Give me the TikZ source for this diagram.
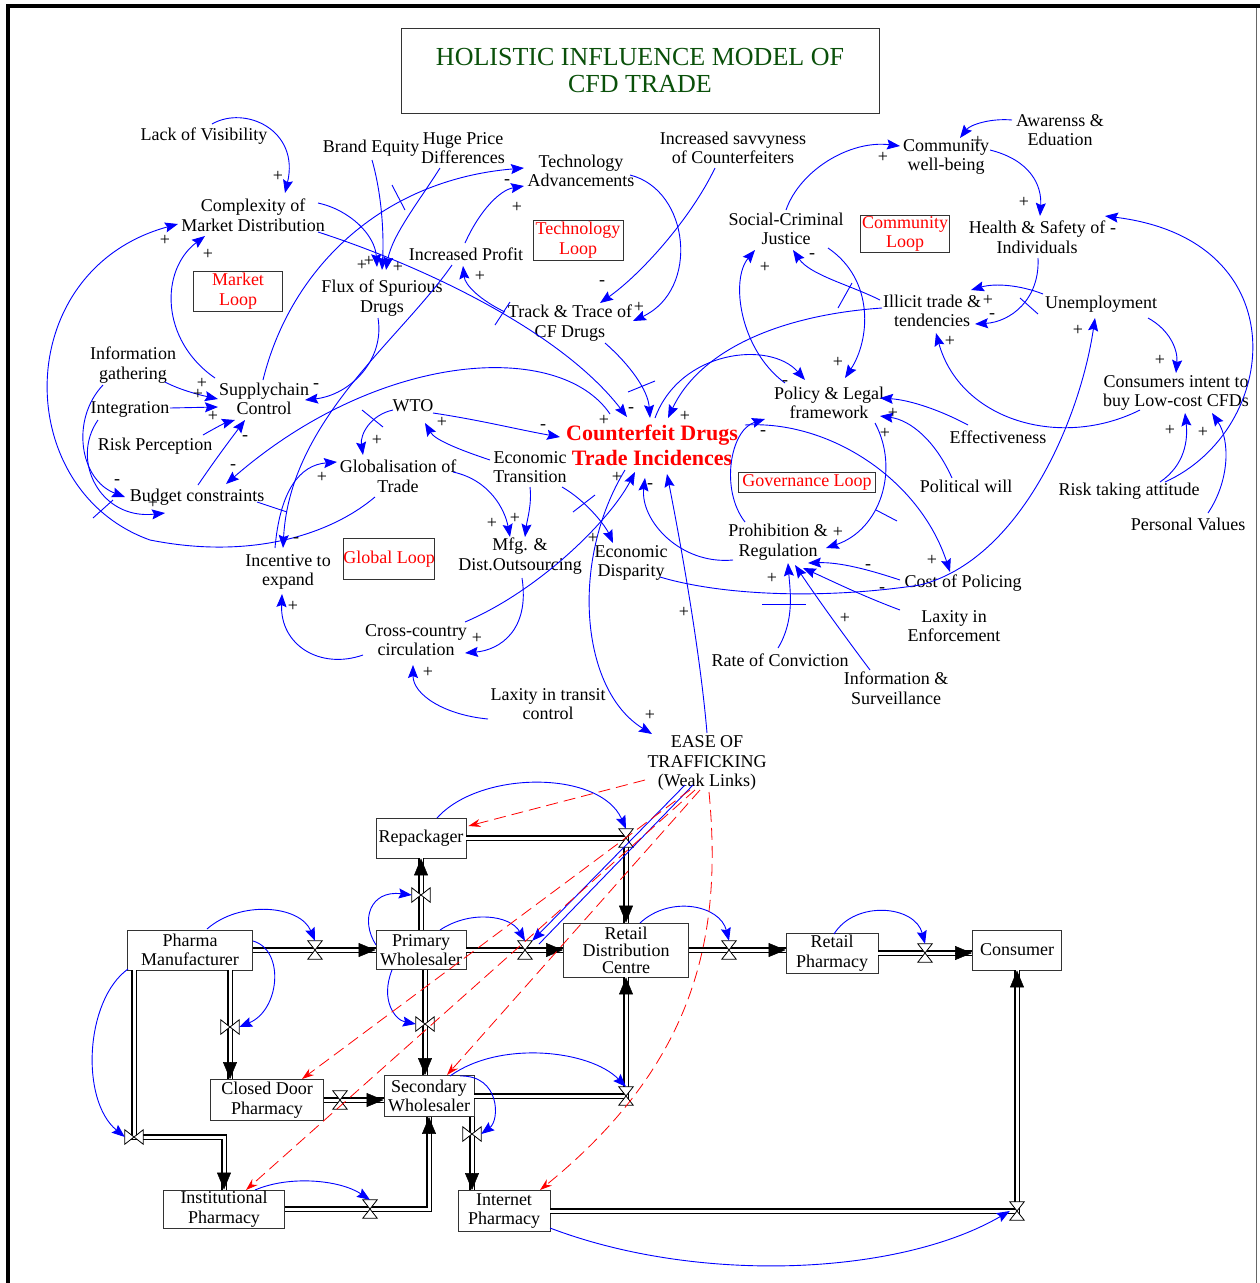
\documentclass[tikz,border=0pt]{standalone}
\usepackage{fontspec}
\setmainfont{Liberation Serif}
\usetikzlibrary{arrows.meta,calc}
\definecolor{dkgreen}{RGB}{10,80,10}
\newcommand\vfnt{\fontsize{18}{19.5}\selectfont}
\newcommand\rdcfnt{\fontsize{18}{17}\selectfont}
\newcommand\sgfnt{\fontsize{18}{18}\selectfont}
\newcommand\ttlfnt{\fontsize{26}{27}\selectfont}
\newcommand\cfdfnt{\fontsize{22}{25}\selectfont\bfseries}
% hourglass valve on a horizontal pipe, bow-tie valve on a vertical pipe
\newcommand\valveh[1]{\draw[black,line width=0.8pt,fill=white] (#1.north west) -- (#1.north east) -- (#1.south west) -- (#1.south east) -- cycle;}
\newcommand\valvev[1]{\draw[black,line width=0.8pt,fill=white] (#1.north west) -- (#1.south west) -- (#1.north east) -- (#1.south east) -- cycle;}
\tikzset{
  var/.style={font=\vfnt, align=center, inner sep=1pt},
  lnk/.style={blue, line width=0.9pt, -{Stealth[length=13pt,width=10pt,inset=2pt]}},
  tick/.style={blue, line width=0.9pt},
  sgn/.style={font=\sgfnt, inner sep=0pt},
  stock/.style={draw=black!80, line width=0.9pt, font=\vfnt, align=center, inner sep=0pt},
  loopbox/.style={draw=black!80, line width=0.9pt, font=\vfnt, text=red, align=center, inner sep=0pt},
  pipe/.style={draw=black, line width=1.1pt, double=white, double distance=3pt},
  flowhead/.style={line width=0.5pt, -{Triangle[length=17pt,width=14pt]}},
  valveH/.style={minimum width=14pt, minimum height=18pt, inner sep=0pt},
  valveV/.style={minimum width=18pt, minimum height=14pt, inner sep=0pt},
  weak/.style={red, line width=0.8pt, dash pattern=on 12pt off 6pt, -{Stealth[length=12pt,width=8pt]}},
}
\begin{document}
\begin{tikzpicture}[x=1pt,y=-1pt]
\useasboundingbox (0,0) rectangle (1260,1283);
\fill[white] (0,0) rectangle (1260,1283);
% frame
\draw[line width=4pt] (8,1283) -- (8,6) -- (1260,6);
\draw[black!60, line width=0.8pt] (1256,8) -- (1256,1283);

% title
\node[draw=black!80, line width=0.9pt, minimum width=478pt, minimum height=85pt, font=\ttlfnt, text=dkgreen, align=center] (title) at (640,70.5) {HOLISTIC INFLUENCE MODEL OF\\CFD TRADE};

% variables
\node[var] (lack) at (204,136) {Lack of Visibility};
\node[var] (brand) at (371,148) {Brand Equity};
\node[var] (huge) at (463,148) {Huge Price\\Differences};
\node[var] (tech) at (581,171) {Technology\\Advancements};
\node[var] (savvy) at (733,148) {Increased savvyness\\of Counterfeiters};
\node[var] (aware) at (1060,130) {Awarenss \&\\Eduation};
\node[var] (comm) at (946,157) {Community\\well-being};
\node[var] (cplx) at (253,215) {Complexity of\\Market Distribution};
\node[var] (socc) at (786,229) {Social-Criminal\\Justice};
\node[var] (health) at (1037,237) {Health \& Safety of\\Individuals};
\node[var] (profit) at (466,254) {Increased Profit};
\node[var] (flux) at (382,298) {Flux of Spurious\\Drugs};
\node[var] (track) at (570,323) {Track \& Trace of\\CF Drugs};
\node[var] (illicit) at (932,311) {Illicit trade \&\\tendencies};
\node[var] (unemp) at (1101,304) {Unemployment};
\node[var] (info) at (133,365) {Information\\gathering};
\node[var] (supply) at (264,399) {Supplychain\\Control};
\node[var] (integ) at (130,409) {Integration};
\node[var] (policy) at (829,403) {Policy \& Legal\\framework};
\node[var] (consum) at (1176,393) {Consumers intent to\\buy Low-cost CFDs};
\node[var] (wto) at (413,406) {WTO};
\node[font=\cfdfnt, text=red, align=center, inner sep=1pt] (cfd) at (652,445) {Counterfeit Drugs\\Trade Incidences};
\node[var] (risk) at (155,446) {Risk Perception};
\node[var] (effect) at (998,437) {Effectiveness};
\node[var] (econt) at (530,467) {Economic\\Transition};
\node[var] (glob) at (398,476) {Globalisation of\\Trade};
\node[var] (polw) at (966,486) {Political will};
\node[var] (riskt) at (1129,491) {Risk taking attitude};
\node[var] (budget) at (197,497) {Budget constraints};
\node[var] (persv) at (1188,524) {Personal Values};
\node[var] (prohib) at (778,542) {Prohibition \&\\Regulation};
\node[var] (mfg) at (520,556) {Mfg. \&\\Dist.Outsourcing};
\node[var] (econd) at (631,563) {Economic\\Disparity};
\node[var] (incent) at (288,572) {Incentive to\\expand};
\node[var] (cost) at (963,583) {Cost of Policing};
\node[var] (laxe) at (954,626) {Laxity in\\Enforcement};
\node[var] (cross) at (416,640) {Cross-country\\circulation};
\node[var] (rate) at (780,660) {Rate of Conviction};
\node[var] (infs) at (896,688) {Information \&\\Surveillance};
\node[var] (laxt) at (548,704) {Laxity in transit\\control};
\node[var] (ease) at (707,763) {EASE OF\\TRAFFICKING\\(Weak Links)};

% loop labels
\node[loopbox, minimum width=89pt, minimum height=40pt] (mloop) at (238,291) {Market\\Loop};
\node[loopbox, minimum width=90pt, minimum height=40pt] (tloop) at (578,240) {Technology\\Loop};
\node[loopbox, minimum width=89pt, minimum height=37pt] (cloop) at (905,234) {Community\\Loop};
\node[loopbox, minimum width=137pt, minimum height=20pt] (gvloop) at (807,482) {Governance Loop};
\node[loopbox, minimum width=91pt, minimum height=41pt] (glloop) at (389,559) {Global Loop};

% causal links
\draw[lnk] ($(lack)+(8,-12)$) .. controls (245,105) and (300,130) .. ($(cplx)+(32,-22)$);
\draw[lnk] ($(cplx)+(65,-12)$) .. controls (350,210) and (375,235) .. ($(flux)+(-5,-31)$);
\draw[lnk] ($(cplx)+(65,17)$) .. controls (420,265) and (560,330) .. ($(cfd)+(-25,-28)$);
\draw[lnk] ($(brand)+(1,12)$) .. controls (382,195) and (384,235) .. ($(flux)+(0,-28)$);
\draw[lnk] ($(huge)+(-23,20)$) .. controls (420,200) and (392,235) .. ($(flux)+(4,-28)$);
\draw[lnk] ($(supply)+(-1,-19)$) .. controls (290,270) and (380,180) .. ($(tech)+(-57,-3)$);
\draw[lnk] ($(profit)+(-1,-11)$) .. controls (480,210) and (500,190) .. ($(tech)+(-57,15)$);
\draw[lnk] ($(tech)+(49,4)$) .. controls (690,190) and (700,290) .. ($(track)+(63,-2)$);
\draw[lnk] ($(savvy)+(-18,20)$) .. controls (690,220) and (640,275) .. ($(track)+(30,-20)$);
\draw[lnk] ($(track)+(-65,-11)$) .. controls (480,300) and (465,285) .. ($(profit)+(-3,12)$);
\draw[lnk] ($(flux)+(-4,20)$) .. controls (385,360) and (350,395) .. ($(supply)+(41,1)$);
\draw[lnk] ($(supply)+(-49,-21)$) .. controls (160,340) and (160,270) .. ($(cplx)+(-48,21)$);
\draw[lnk] ($(info)+(32,17)$) .. controls (180,390) and (200,395) .. ($(supply)+(-46,0)$);
\draw[lnk] ($(integ)+(40,-1)$) -- ($(supply)+(-46,8)$);
\draw[lnk] ($(risk)+(48,-11)$) .. controls (215,428) and (225,423) .. ($(supply)+(-29,21)$);
\draw[lnk] ($(budget)+(1,-12)$) .. controls (215,460) and (230,440) .. ($(supply)+(-19,21)$);
\draw[lnk] ($(cfd)+(-42,-31)$) .. controls (560,340) and (380,350) .. ($(budget)+(29,-13)$);
\draw[lnk] ($(profit)+(-14,11)$) .. controls (400,340) and (290,420) .. ($(incent)+(-5,-24)$);
\draw[lnk] ($(incent)+(-13,-24)$) .. controls (280,490) and (300,465) .. ($(glob)+(-61,-14)$);
\draw[lnk] ($(glob)+(-23,21)$) .. controls (330,535) and (250,560) .. (150,540) .. controls (10,490) and (10,270) .. ($(cplx)+(-75,9)$);
\draw[lnk] ($(wto)+(-20,4)$) .. controls (370,415) and (360,435) .. ($(glob)+(-35,-21)$);
\draw[lnk] ($(econt)+(-40,-7)$) .. controls (460,450) and (435,440) .. ($(wto)+(12,17)$);
\draw[lnk] ($(wto)+(20,7)$) .. controls (480,420) and (520,430) .. ($(cfd)+(-92,-8)$);
\draw[lnk] ($(glob)+(55,-4)$) .. controls (490,480) and (505,510) .. ($(mfg)+(-10,-19)$);
\draw[lnk] ($(econt)+(0,20)$) .. controls (532,505) and (527,520) .. ($(mfg)+(5,-19)$);
\draw[lnk] ($(econt)+(32,20)$) .. controls (585,500) and (605,525) .. ($(econd)+(-18,-20)$);
\draw[lnk] ($(mfg)+(2,22)$) .. controls (530,630) and (500,650) .. ($(cross)+(49,13)$);
\draw[lnk] ($(cross)+(49,-18)$) .. controls (540,590) and (610,520) .. ($(cfd)+(-17,27)$);
\draw[lnk] ($(laxt)+(-60,15)$) .. controls (445,715) and (413,695) .. ($(cross)+(-3,25)$);
\draw[lnk] ($(cross)+(-53,15)$) .. controls (320,670) and (280,645) .. ($(incent)+(-6,22)$);
\draw[lnk] ($(cfd)+(-27,25)$) .. controls (570,560) and (580,690) .. ($(ease)+(-55,-29)$);
\draw[lnk] ($(ease)+(0,-30)$) .. controls (700,650) and (680,540) .. ($(cfd)+(15,29)$);
\draw[lnk] ($(prohib)+(-45,18)$) .. controls (680,565) and (640,520) .. ($(cfd)+(-7,33)$);
\draw[lnk] ($(track)+(35,20)$) .. controls (630,365) and (648,390) .. ($(cfd)+(-2,-27)$);
\draw[lnk] ($(illicit)+(-50,-3)$) .. controls (780,315) and (700,350) .. ($(cfd)+(16,-27)$);
\draw[lnk] ($(cfd)+(3,-27)$) .. controls (680,350) and (770,340) .. ($(policy)+(-24,-23)$);
\draw[lnk] ($(policy)+(-44,-20)$) .. controls (740,350) and (730,280) .. ($(socc)+(-31,21)$);
\draw[lnk] ($(socc)+(42,19)$) .. controls (875,280) and (870,340) .. ($(policy)+(16,-25)$);
\draw[lnk] ($(illicit)+(-52,-11)$) .. controls (850,285) and (810,275) .. ($(socc)+(7,21)$);
\draw[lnk] ($(socc)+(0,-19)$) .. controls (800,170) and (850,140) .. ($(comm)+(-46,-11)$);
\draw[lnk] ($(aware)+(-48,-10)$) .. controls (990,118) and (970,125) .. ($(comm)+(14,-19)$);
\draw[lnk] ($(comm)+(44,-7)$) .. controls (1030,160) and (1042,185) .. ($(health)+(3,-21)$);
\draw[lnk] ($(health)+(1,21)$) .. controls (1040,300) and (1010,322) .. ($(illicit)+(43,13)$);
\draw[lnk] ($(unemp)+(-58,-10)$) .. controls (1020,285) and (995,283) .. ($(illicit)+(39,-21)$);
\draw[lnk] ($(unemp)+(47,14)$) .. controls (1170,330) and (1178,350) .. ($(consum)+(0,-20)$);
\draw[lnk] ($(consum)+(-36,17)$) .. controls (1060,450) and (960,420) .. ($(illicit)+(4,22)$);
\draw[lnk] ($(riskt)+(31,-9)$) .. controls (1185,465) and (1188,440) .. ($(consum)+(9,20)$);
\draw[lnk] ($(riskt)+(36,-9)$) .. controls (1280,430) and (1300,240) .. ($(health)+(68,-21)$);
\draw[lnk] ($(persv)+(20,-11)$) .. controls (1230,480) and (1230,440) .. ($(consum)+(36,20)$);
\draw[lnk] ($(econd)+(29,14)$) .. controls (720,595) and (820,600) .. (920,585) .. controls (1020,560) and (1080,420) .. ($(unemp)+(-6,14)$);
\draw[lnk] ($(policy)+(46,20)$) .. controls (900,470) and (880,530) .. ($(prohib)+(48,6)$);
\draw[lnk] ($(prohib)+(-33,-20)$) .. controls (720,490) and (730,430) .. ($(policy)+(-64,16)$);
\draw[lnk] ($(effect)+(-30,-12)$) .. controls (940,410) and (910,400) .. ($(policy)+(51,-5)$);
\draw[lnk] ($(polw)+(-14,-8)$) .. controls (935,440) and (910,420) .. ($(policy)+(51,13)$);
\draw[lnk] ($(policy)+(-84,22)$) .. controls (830,420) and (920,480) .. ($(cost)+(-13,-11)$);
\draw[lnk] ($(cost)+(-63,-3)$) .. controls (870,570) and (840,562) .. ($(prohib)+(30,21)$);
\draw[lnk] ($(laxe)+(-54,-16)$) .. controls (860,595) and (830,580) .. ($(prohib)+(25,26)$);
\draw[lnk] ($(rate)+(-2,-12)$) .. controls (795,620) and (790,590) .. ($(prohib)+(10,21)$);
\draw[lnk] ($(infs)+(-26,-18)$) .. controls (840,630) and (815,595) .. ($(prohib)+(17,23)$);
\draw[lnk] ($(info)+(-30,20)$) .. controls (70,420) and (80,480) .. ($(budget)+(-72,0)$);
\draw[lnk] ($(integ)+(-32,11)$) .. controls (70,460) and (100,520) .. ($(budget)+(-32,16)$);

% delay marks
\draw[tick] (392,185) -- (405,210);
\draw[tick] (495,325) -- (510,302);
\draw[tick] (628,392) -- (655,381);
\draw[tick] (838,308) -- (852,283);
\draw[tick] (573,512) -- (595,495);
\draw[tick] (362,410) -- (383,427);
\draw[tick] (257,502) -- (287,512);
\draw[tick] (93,518) -- (113,500);
\draw[tick] (1020,298) -- (1038,314);
\draw[tick] (876,510) -- (897,521);
\draw[tick] (762,604) -- (806,604);

% link polarities
\foreach \x/\y/\s [count=\i] in {278/176/+,165/240/+,208/254/+,362/265/+,369/261/+,398/267/+,
  507/182/-,517/207/+,480/276/+,602/283/-,639/307/+,316/386/-,202/383/+,198/394/+,213/416/+,
  245/438/-,233/467/-,117/482/-,153/503/+,322/477/+,377/440/+,296/540/-,293/606/+,442/422/+,
  543/427/-,604/420/+,631/410/-,685/416/+,492/523/+,515/518/+,593/538/+,617/477/+,650/486/-,
  477/638/+,428/672/+,684/612/+,650/715/+,978/141/+,883/157/+,1024/202/+,1113/231/-,765/267/+,
  812/256/-,988/300/+,992/316/-,950/341/+,1078/330/+,1160/360/+,838/362/+,785/383/-,893/413/+,
  885/433/+,763/433/-,1170/430/+,1203/432/+,838/532/+,932/560/+,868/567/-,882/590/-,772/578/+,
  845/618/+}
  \node[sgn] (sg\i) at (\x,\y) {\s};

% stocks
\node[stock, minimum width=90pt, minimum height=40pt] (repack) at (421,838) {Repackager};
\node[stock, minimum width=125pt, minimum height=40pt] (pharma) at (190,950) {Pharma\\Manufacturer};
\node[stock, minimum width=90pt, minimum height=39pt] (prim) at (421,950) {Primary\\Wholesaler};
\node[stock, minimum width=125pt, minimum height=54pt, font=\rdcfnt] (rdc) at (626,950) {Retail\\Distribution\\Centre};
\node[stock, minimum width=92pt, minimum height=40pt] (rp) at (832,953) {Retail\\Pharmacy};
\node[stock, minimum width=89pt, minimum height=40pt] (cons) at (1017,950) {Consumer};
\node[stock, minimum width=113pt, minimum height=41pt] (closed) at (267,1100) {Closed Door\\Pharmacy};
\node[stock, minimum width=90pt, minimum height=41pt] (sec) at (429,1096) {Secondary\\Wholesaler};
\node[stock, minimum width=121pt, minimum height=38pt] (inst) at (224,1209) {Institutional\\Pharmacy};
\node[stock, minimum width=92pt, minimum height=41pt] (int) at (504,1211) {Internet\\Pharmacy};

% valve positions
\node[valveH] (vpp) at (315,950) {};
\node[valveH] (vprdc) at (525,950) {};
\node[valveH] (vrr) at (729,950) {};
\node[valveH] (vrc) at (925,953) {};
\node[valveV] (vprep) at (421,895) {};
\node[valveH] (vreprdc) at (626,838) {};
\node[valveV] (vpcd) at (230,1027) {};
\node[valveV] (vpinst) at (134,1137) {};
\node[valveV] (vpsec) at (425,1024) {};
\node[valveH] (vcdsec) at (340,1100) {};
\node[valveH] (vsecrdc) at (626,1096) {};
\node[valveH] (vinstsec) at (370,1209) {};
\node[valveV] (vsecint) at (472,1134) {};
\node[valveH] (vintcon) at (1017,1211) {};

% flow pipes
\draw[pipe] (pharma.east) -- (prim.west);
\draw[pipe] (prim.east) -- (rdc.west);
\draw[pipe] (rdc.east) -- (rdc.east -| rp.west);
\draw[pipe] (rp.east) -- (rp.east -| cons.west);
\draw[pipe] (prim.north) -- (repack.south);
\draw[pipe] (repack.east) -- (vreprdc.center) -- (rdc.north);
\draw[pipe] (pharma.south -| vpcd) -- (closed.north -| vpcd);
\draw[pipe] (pharma.south -| vpinst) -- (vpinst.center) -- (vpinst -| inst.north) -- (inst.north);
\draw[pipe] (prim.south -| vpsec) -- (sec.north -| vpsec);
\draw[pipe] (closed.east) -- (closed.east -| sec.west);
\draw[pipe] (sec.east) -- (vsecrdc.center) -- (rdc.south);
\draw[pipe] (inst.east) -- (inst.east -| sec.south) -- (sec.south);
\draw[pipe] (sec.south -| vsecint) -- (int.north -| vsecint);
\draw[pipe] (int.east) -- (vintcon.center) -- (cons.south);

% flow heads
\draw[flowhead] ($(prim.west)+(-3,0)$) -- (prim.west);
\draw[flowhead] ($(rdc.west)+(-3,0)$) -- (rdc.west);
\draw[flowhead] ($(rdc.east -| rp.west)+(-3,0)$) -- (rdc.east -| rp.west);
\draw[flowhead] ($(rp.east -| cons.west)+(-3,0)$) -- (rp.east -| cons.west);
\draw[flowhead] ($(repack.south)+(0,3)$) -- (repack.south);
\draw[flowhead] ($(rdc.north)+(0,-3)$) -- (rdc.north);
\draw[flowhead] ($(closed.north -| vpcd)+(0,-3)$) -- (closed.north -| vpcd);
\draw[flowhead] ($(inst.north)+(0,-3)$) -- (inst.north);
\draw[flowhead] ($(sec.north -| vpsec)+(0,-3)$) -- (sec.north -| vpsec);
\draw[flowhead] ($(closed.east -| sec.west)+(-3,0)$) -- (closed.east -| sec.west);
\draw[flowhead] ($(rdc.south)+(0,3)$) -- (rdc.south);
\draw[flowhead] ($(sec.south)+(0,3)$) -- (sec.south);
\draw[flowhead] ($(int.north -| vsecint)+(0,-3)$) -- (int.north -| vsecint);
\draw[flowhead] ($(cons.south)+(0,3)$) -- (cons.south);

% valves
\valveh{vpp} \valveh{vprdc} \valveh{vrr} \valveh{vrc} \valveh{vreprdc}
\valveh{vcdsec} \valveh{vsecrdc} \valveh{vinstsec} \valveh{vintcon}
\valvev{vprep} \valvev{vpcd} \valvev{vpinst} \valvev{vpsec} \valvev{vsecint}

% information links to the flows
\draw[lnk] ($(pharma)+(17,-21)$) .. controls (240,900) and (300,905) .. (vpp.north);
\draw[lnk] ($(pharma)+(63,-9)$) .. controls (285,950) and (280,1010) .. (vpcd.east);
\draw[lnk] ($(pharma)+(-62,19)$) .. controls (85,1000) and (80,1100) .. (vpinst.west);
\draw[lnk] ($(prim)+(-45,-5)$) .. controls (360,920) and (370,890) .. (vprep.west);
\draw[lnk] ($(prim)+(19,-20)$) .. controls (470,910) and (510,915) .. (vprdc.north);
\draw[lnk] ($(prim)+(-29,20)$) .. controls (380,1000) and (395,1020) .. (vpsec.west);
\draw[lnk] ($(repack)+(16,-20)$) .. controls (480,770) and (600,770) .. (vreprdc.north);
\draw[lnk] ($(rdc)+(14,-27)$) .. controls (670,895) and (720,905) .. (vrr.north);
\draw[lnk] ($(rp)+(2,-19)$) .. controls (855,900) and (915,905) .. (vrc.north);
\draw[lnk] ($(sec)+(21,-20)$) .. controls (500,1040) and (590,1050) .. (vsecrdc.north);
\draw[lnk] ($(sec)+(31,-20)$) .. controls (500,1075) and (500,1120) .. (vsecint.east);
\draw[lnk] ($(inst)+(31,-19)$) .. controls (290,1175) and (340,1180) .. (vinstsec.north);
\draw[lnk] ($(int)+(46,17)$) .. controls (700,1285) and (900,1275) .. (vintcon.west);
\draw[lnk] ($(ease)+(-22,22)$) -- (vprdc.north east);
\coordinate (easeend) at (539,944);
\draw[blue, line width=0.9pt] ($(ease)+(-14,22)$) -- (easeend);

% weak links
\draw[weak] ($(ease)+(-62,17)$) -- ($(repack.east)+(2,-12)$);
\draw[weak] ($(ease)+(-17,27)$) -- ($(closed)+(35,-21)$);
\draw[weak] ($(ease)+(-12,27)$) -- ($(inst)+(22,-19)$);
\draw[weak] ($(ease)+(-7,27)$) -- ($(sec)+(18,-21)$);
\draw[weak] ($(ease)+(2,29)$) .. controls (722,930) and (700,1060) .. ($(int)+(36,-21)$);
\end{tikzpicture}
\end{document}
